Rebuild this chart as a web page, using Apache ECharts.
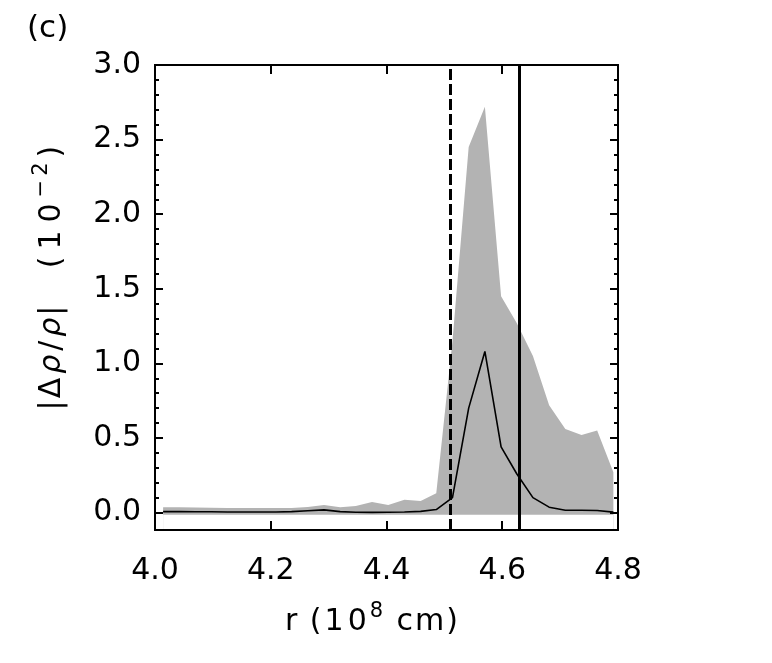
<!DOCTYPE html>
<html>
<head>
<meta charset="utf-8">
<script src="https://cdn.jsdelivr.net/npm/echarts@6/dist/echarts.min.js"></script>
<style>
html, body { margin: 0; padding: 0; background: #fff; }
#chart { width: 772px; height: 663px; }
</style>
</head>
<body>
<div id="chart"></div>
<script>
// radius samples (10^8 cm)
const radius = [4.014, 4.042, 4.070, 4.097, 4.125, 4.153, 4.181, 4.209, 4.236, 4.264,
    4.292, 4.320, 4.347, 4.375, 4.403, 4.431, 4.459, 4.486, 4.514, 4.542,
    4.570, 4.598, 4.625, 4.653, 4.681, 4.709, 4.737, 4.764, 4.792]
// mean |drho/rho| (10^-2)
const meanLine = [0.006, 0.006, 0.005, 0.005, 0.004, 0.004, 0.004, 0.004, 0.006, 0.012,
    0.018, 0.006, 0.002, 0.001, 0.002, 0.004, 0.008, 0.020, 0.10, 0.70,
    1.08, 0.44, 0.26, 0.10, 0.036, 0.015, 0.015, 0.014, 0.003]
// grey spread band: upper and lower edge
const bandUpper = [0.035, 0.035, 0.034, 0.032, 0.030, 0.030, 0.030, 0.031, 0.030, 0.038,
    0.050, 0.036, 0.044, 0.070, 0.050, 0.085, 0.078, 0.130, 1.15, 2.45,
    2.72, 1.45, 1.27, 1.05, 0.72, 0.56, 0.52, 0.55, 0.27]
const bandLower = [-0.015, -0.015, -0.015, -0.015, -0.015, -0.015, -0.015, -0.015, -0.015, -0.015,
    -0.015, -0.015, -0.015, -0.015, -0.015, -0.015, -0.015, -0.015, -0.015, -0.015,
    -0.015, -0.015, -0.015, -0.015, -0.015, -0.015, -0.015, -0.015, -0.015]
// vertical marker lines
const rDashed = 4.513
const rSolid = 4.626
// tick values
const yMajorTicks = [0.0, 0.5, 1.0, 1.5, 2.0, 2.5, 3.0]
const yMinorTicks = [0.1, 0.2, 0.3, 0.4, 0.6, 0.7, 0.8, 0.9, 1.1, 1.2, 1.3, 1.4,
    1.6, 1.7, 1.8, 1.9, 2.1, 2.2, 2.3, 2.4, 2.6, 2.7, 2.8, 2.9]

const FONT = '"DejaVu Sans", "Liberation Sans", sans-serif'
const chart = echarts.init(document.getElementById('chart'))

const pairs = (ys) => radius.map((r, i) => [r, ys[i]])

const xAxisBase = {
    type: 'value', min: 4.0, max: 4.8, interval: 0.2, z: 10,
    splitLine: { show: false },
    axisLine: { show: true, onZero: false, lineStyle: { color: '#000', width: 2 } },
    axisTick: { show: true, inside: true, length: 9, lineStyle: { color: '#000', width: 2 } }
}
const yAxisBase = {
    type: 'value', min: -0.117, max: 3.0, z: 10,
    splitLine: { show: false },
    axisLine: { show: true, onZero: false, lineStyle: { color: '#000', width: 2 } }
}
function yAxis(pos, major) {
    return Object.assign({}, yAxisBase, {
        position: pos,
        axisTick: {
            show: true, inside: true, length: major ? 8 : 4,
            customValues: major ? yMajorTicks : yMinorTicks,
            lineStyle: { color: '#000', width: 2 }
        },
        axisLabel: (pos === 'left' && major) ? {
            show: true, customValues: yMajorTicks, margin: 14,
            color: '#000', fontSize: 30, fontFamily: FONT,
            formatter: v => v.toFixed(1)
        } : { show: false }
    })
}

// rich text styles for the axis titles (pad = letter spacing per glyph)
const base = { fontSize: 30, fontFamily: FONT, fill: '#000', lineHeight: 36, verticalAlign: 'bottom' }
function makeRich(pw, pd, pi, ps) {
    return {
        n: base,
        w: Object.assign({}, base, { padding: [0, pw, 0, pw] }),
        d: Object.assign({}, base, { padding: [0, pd, 0, pd] }),
        i: Object.assign({}, base, { fontStyle: 'italic', padding: [0, pi, 0, pi] }),
        s: { fontSize: 21, fontFamily: FONT, fill: '#000', lineHeight: 18, verticalAlign: 'top', padding: [0, ps, 0, ps] }
    }
}

const options = {
    animation: false,
    grid: { left: 155, right: 154, top: 65, bottom: 133 },
    xAxis: [
        Object.assign({}, xAxisBase, {
            position: 'bottom',
            axisLabel: { margin: 26, color: '#000', fontSize: 30, fontFamily: FONT, formatter: v => v.toFixed(1) }
        }),
        Object.assign({}, xAxisBase, { position: 'top', axisLabel: { show: false } })
    ],
    yAxis: [yAxis('left', true), yAxis('left', false), yAxis('right', true), yAxis('right', false)],
    graphic: [
        {
            type: 'text', x: 27, y: 29,
            style: { text: '(c)', fontSize: 31, fontFamily: FONT, fill: '#000', align: 'left', verticalAlign: 'middle' }
        },
        {
            type: 'text', x: 372, y: 619,
            style: {
                text: '{n|r}{w| }{w|(}{d|1}{d|0}{s|8}{w| }{w|c}{w|m}{w|)}',
                align: 'center', verticalAlign: 'middle', rich: makeRich(1, 2, 1, 1)
            }
        },
        {
            type: 'text', x: 49, y: 358, rotation: Math.PI / 2,
            style: {
                text: '{n||}{w|Δ}{i|ρ}{w|/}{i|ρ}{n||}',
                align: 'center', verticalAlign: 'middle', rich: makeRich(2, 2, 2, 2)
            }
        },
        {
            type: 'text', x: 49, y: 207, rotation: Math.PI / 2,
            style: {
                text: '{w|(}{d|1}{d|0}{s|−}{s|2}{w|)}',
                align: 'center', verticalAlign: 'middle', rich: makeRich(3, 4, 2, 2)
            }
        }
    ],
    series: [
        {
            name: 'bandUpper', type: 'line', data: pairs(bandUpper),
            showSymbol: false, silent: true, z: 2,
            lineStyle: { width: 0, opacity: 0 },
            areaStyle: { color: '#b3b3b3', opacity: 1, origin: 'start' }
        },
        {
            name: 'bandLower', type: 'line', data: pairs(bandLower),
            showSymbol: false, silent: true, z: 3,
            lineStyle: { width: 0, opacity: 0 },
            areaStyle: { color: '#ffffff', opacity: 1, origin: 'start' }
        },
        {
            name: 'mean', type: 'line', data: pairs(meanLine),
            showSymbol: false, silent: true, z: 5,
            lineStyle: { color: '#000', width: 1.6 },
            markLine: {
                silent: true, symbol: 'none', label: { show: false },
                data: [
                    { xAxis: rDashed, lineStyle: { color: '#000', width: 3, type: [11, 4] } },
                    { xAxis: rSolid, lineStyle: { color: '#000', width: 3, type: 'solid' } }
                ]
            }
        }
    ]
}
chart.setOption(options)
</script>
</body>
</html>
